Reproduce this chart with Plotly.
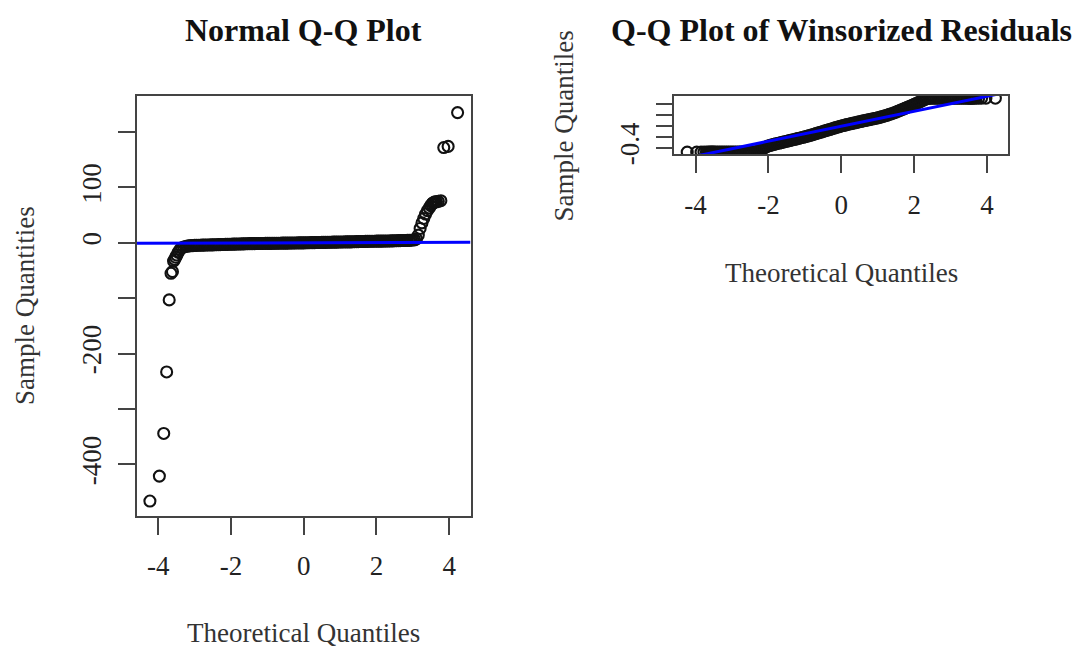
import plotly.graph_objects as go

# Theoretical normal quantiles shared by both panels (same sample size)
theo_q = [
    -4.23, -3.97, -3.85, -3.77, -3.70, -3.65, -3.61, -3.58, -3.55, -3.52, -3.49,
    -3.45, -3.40, -3.35, -3.30, -3.25, -3.20, -3.15, -3.10, -3.05, -3.00,
    -2.95, -2.90, -2.85, -2.80, -2.75, -2.70, -2.65, -2.60, -2.55, -2.50,
    -2.45, -2.40, -2.35, -2.30, -2.25, -2.20, -2.15, -2.10, -2.05, -2.00,
    -1.95, -1.90, -1.85, -1.80, -1.75, -1.70, -1.65, -1.60, -1.55, -1.50,
    -1.45, -1.40, -1.35, -1.30, -1.25, -1.20, -1.15, -1.10, -1.05, -1.00,
    -0.95, -0.90, -0.85, -0.80, -0.75, -0.70, -0.65, -0.60, -0.55, -0.50,
    -0.45, -0.40, -0.35, -0.30, -0.25, -0.20, -0.15, -0.10, -0.05, 0.00,
    0.05, 0.10, 0.15, 0.20, 0.25, 0.30, 0.35, 0.40, 0.45, 0.50,
    0.55, 0.60, 0.65, 0.70, 0.75, 0.80, 0.85, 0.90, 0.95, 1.00,
    1.05, 1.10, 1.15, 1.20, 1.25, 1.30, 1.35, 1.40, 1.45, 1.50,
    1.55, 1.60, 1.65, 1.70, 1.75, 1.80, 1.85, 1.90, 1.95, 2.00,
    2.05, 2.10, 2.15, 2.20, 2.25, 2.30, 2.35, 2.40, 2.45, 2.50,
    2.55, 2.60, 2.65, 2.70, 2.75, 2.80, 2.85, 2.90, 2.95, 3.00,
    3.05, 3.10, 3.15, 3.20, 3.25, 3.30, 3.35, 3.40, 3.45,
    3.49, 3.52, 3.55, 3.58, 3.61, 3.65, 3.70, 3.77, 3.85, 3.97, 4.23,
]

# Ordered raw residuals
sample_raw = [
    -466, -421, -344, -233, -103, -55, -52, -33, -30, -26, -22,
    -17, -12, -9, -7.5, -6.5, -6, -5.5, -5, -5, -4.5,
    -4.5, -4.4, -4.3, -4.2, -4.1, -4.0, -3.9, -3.8, -3.7, -3.6,
    -3.5, -3.4, -3.3, -3.2, -3.0, -2.9, -2.8, -2.7, -2.6, -2.5,
    -2.4, -2.3, -2.2, -2.1, -2.0, -1.9, -1.8, -1.7, -1.6, -1.5,
    -1.45, -1.4, -1.35, -1.3, -1.25, -1.2, -1.15, -1.1, -1.05, -1.0,
    -0.95, -0.9, -0.85, -0.8, -0.75, -0.7, -0.65, -0.6, -0.55, -0.5,
    -0.45, -0.4, -0.35, -0.3, -0.25, -0.2, -0.15, -0.1, -0.05, 0.0,
    0.08, 0.15, 0.23, 0.3, 0.38, 0.45, 0.53, 0.6, 0.68, 0.75,
    0.83, 0.9, 0.98, 1.05, 1.13, 1.2, 1.28, 1.35, 1.43, 1.5,
    1.55, 1.6, 1.65, 1.7, 1.75, 1.8, 1.9, 2.0, 2.1, 2.2,
    2.3, 2.4, 2.5, 2.6, 2.7, 2.8, 2.85, 2.9, 2.95, 3.0,
    3.05, 3.1, 3.15, 3.2, 3.25, 3.3, 3.4, 3.5, 3.6, 3.7,
    3.8, 3.9, 4.0, 4.1, 4.2, 4.3, 4.4, 4.5, 4.7, 5.0,
    5.5, 7, 14, 26, 36, 44, 52, 58, 63,
    67, 70, 72, 73, 74, 74, 75, 76, 172, 174, 235,
]

# Ordered winsorized residuals
sample_wins = [
    -0.475, -0.475, -0.475, -0.475, -0.475, -0.475, -0.475, -0.475, -0.475, -0.475, -0.475,
    -0.475, -0.475, -0.475, -0.475, -0.475, -0.475, -0.475, -0.475, -0.475, -0.475,
    -0.475, -0.475, -0.475, -0.475, -0.475, -0.475, -0.475, -0.475, -0.475, -0.475,
    -0.475, -0.474, -0.470, -0.462, -0.448, -0.430, -0.410, -0.392, -0.376, -0.362,
    -0.353, -0.344, -0.335, -0.326, -0.318, -0.310, -0.302, -0.294, -0.286, -0.278,
    -0.270, -0.262, -0.254, -0.246, -0.238, -0.230, -0.222, -0.213, -0.205, -0.196,
    -0.187, -0.178, -0.169, -0.160, -0.150, -0.140, -0.130, -0.120, -0.110, -0.100,
    -0.090, -0.080, -0.070, -0.060, -0.050, -0.040, -0.030, -0.020, -0.010, 0.000,
    0.008, 0.016, 0.024, 0.032, 0.040, 0.047, 0.054, 0.062, 0.070, 0.077,
    0.084, 0.092, 0.099, 0.106, 0.113, 0.120, 0.127, 0.134, 0.141, 0.148,
    0.157, 0.166, 0.175, 0.185, 0.195, 0.206, 0.217, 0.228, 0.240, 0.253,
    0.266, 0.280, 0.294, 0.308, 0.322, 0.336, 0.350, 0.364, 0.378, 0.392,
    0.406, 0.420, 0.436, 0.452, 0.468, 0.484, 0.496, 0.502, 0.505, 0.505,
    0.505, 0.505, 0.505, 0.505, 0.505, 0.505, 0.505, 0.505, 0.505, 0.505,
    0.505, 0.505, 0.505, 0.505, 0.505, 0.505, 0.505, 0.505, 0.505,
    0.505, 0.505, 0.505, 0.505, 0.505, 0.505, 0.505, 0.505, 0.505, 0.505, 0.505,
]

# Reference lines (intercept, slope) through the quartiles
raw_line = (0.0, 0.2)
wins_line = (-0.005, 0.136)

x_ticks = [-4, -2, 0, 2, 4]
x_ticktext = ["-4", "-2", "0", "2", "4"]
raw_yticks = [-400, -300, -200, -100, 0, 100, 200]
raw_yticktext = ["-400", "", "-200", "", "0", "100", ""]
wins_yticks = [-0.4, -0.2, 0.0, 0.2, 0.4]
wins_yticktext = ["-0.4", "", "", "", ""]

X_RANGE = [-4.585, 4.585]
RAW_YRANGE = [-493, 265]
WINS_YRANGE = [-0.515, 0.545]

W, H = 1083, 649
SERIF = "Liberation Serif"


def fx(p):
    return p / W


def fy(p):
    return 1 - p / H


marker = dict(symbol="circle-open", size=11, color="#111111", line=dict(width=2.1, color="#111111"))

fig = go.Figure()
fig.add_trace(go.Scatter(x=theo_q, y=sample_raw, mode="markers", marker=marker,
                         xaxis="x", yaxis="y", showlegend=False, hoverinfo="skip"))
fig.add_trace(go.Scatter(x=X_RANGE, y=[raw_line[0] + raw_line[1] * v for v in X_RANGE],
                         mode="lines", line=dict(color="#0000ff", width=3),
                         xaxis="x", yaxis="y", showlegend=False, hoverinfo="skip"))
fig.add_trace(go.Scatter(x=theo_q, y=sample_wins, mode="markers", marker=marker,
                         xaxis="x2", yaxis="y2", showlegend=False, hoverinfo="skip"))
fig.add_trace(go.Scatter(x=X_RANGE, y=[wins_line[0] + wins_line[1] * v for v in X_RANGE],
                         mode="lines", line=dict(color="#0000ff", width=3),
                         xaxis="x2", yaxis="y2", showlegend=False, hoverinfo="skip"))

axis_style = dict(
    showline=True, mirror=True, linecolor="#444444", linewidth=1.6,
    ticks="outside", ticklen=17, tickwidth=1.6, tickcolor="#444444",
    showgrid=False, zeroline=False, automargin=False,
    tickfont=dict(family=SERIF, size=27, color="#222222"),
)

fig.update_layout(
    width=W, height=H,
    margin=dict(l=0, r=0, t=0, b=0),
    paper_bgcolor="white", plot_bgcolor="white",
    xaxis=dict(domain=[fx(137), fx(470.5)], range=X_RANGE, anchor="y",
               tickmode="array", tickvals=x_ticks, ticktext=x_ticktext,
               ticklabelstandoff=8, **axis_style),
    yaxis=dict(domain=[fy(516), fy(96)], range=RAW_YRANGE, anchor="x",
               tickmode="array", tickvals=raw_yticks, ticktext=raw_yticktext,
               tickangle=-90, ticklabelstandoff=6, **axis_style),
    xaxis2=dict(domain=[fx(674.3), fx(1008.3)], range=X_RANGE, anchor="y2",
                tickmode="array", tickvals=x_ticks, ticktext=x_ticktext,
                ticklabelstandoff=8, **axis_style),
    yaxis2=dict(domain=[fy(154.3), fy(96)], range=WINS_YRANGE, anchor="x2",
                tickmode="array", tickvals=wins_yticks, ticktext=wins_yticktext,
                tickangle=-90, ticklabelstandoff=6, **axis_style),
)

title_font = dict(family=SERIF, size=32, color="#111111")
label_font = dict(family=SERIF, size=27, color="#333333")

annotations = [
    dict(text="<b>Normal Q-Q Plot</b>", x=fx(303.5), y=fy(30), font=title_font),
    dict(text="<b>Q-Q Plot of Winsorized Residuals</b>", x=fx(841.5), y=fy(30), font=title_font),
    dict(text="Theoretical Quantiles", x=fx(303.7), y=fy(633), font=label_font),
    dict(text="Theoretical Quantiles", x=fx(841.7), y=fy(273), font=label_font),
    dict(text="Sample Quantities", x=fx(25), y=fy(306), font=label_font, textangle=-90),
    dict(text="Sample Quantiles", x=fx(563), y=fy(126.5), font=label_font, textangle=-90),
]
for a in annotations:
    a.update(xref="paper", yref="paper", showarrow=False, xanchor="center", yanchor="middle")
fig.update_layout(annotations=annotations)

fig.write_html("out.html")
